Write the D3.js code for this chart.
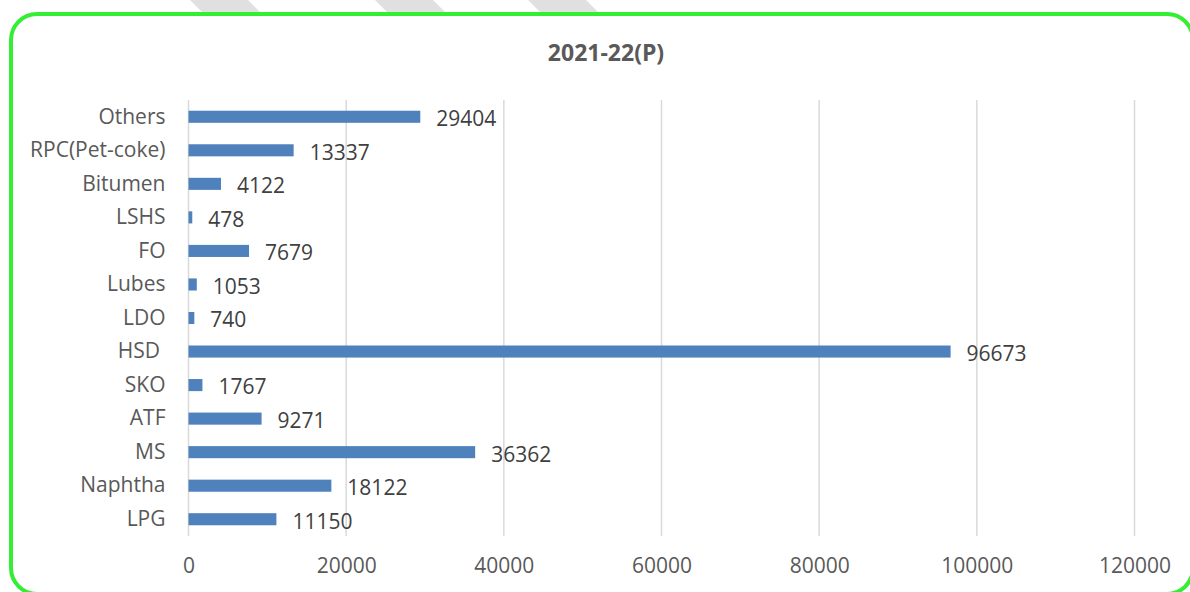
<!DOCTYPE html>
<html>
<head>
<meta charset="utf-8">
<script src="https://cdn.jsdelivr.net/npm/d3@7"></script>
<style>
  html, body { margin: 0; padding: 0; background: #fff; }
  svg { display: block; font-family: "Open Sans", sans-serif; }
</style>
</head>
<body>
<svg width="1190" height="592"></svg>
<script>
// chart data (top to bottom as shown)
const categories = ["Others", "RPC(Pet-coke)", "Bitumen", "LSHS", "FO", "Lubes", "LDO", "HSD ", "SKO", "ATF", "MS", "Naphtha", "LPG"];
const values = [29404, 13337, 4122, 478, 7679, 1053, 740, 96673, 1767, 9271, 36362, 18122, 11150];
const xTicks = [0, 20000, 40000, 60000, 80000, 100000, 120000];
const title = "2021-22(P)";

const svg = d3.select("svg");
const width = +svg.attr("width");
const height = +svg.attr("height");

// faint diagonal stripes peeking above the frame
const stripes = [190, 375, 528];
svg.selectAll(".stripe")
    .data(stripes)
    .join("polygon")
    .attr("class", "stripe")
    .attr("points", d => `${d},0 ${d + 58},0 ${d + 74},16 ${d + 16},16`)
    .attr("fill", "#e0e0e0");

// green rounded frame
svg.append("rect")
    .attr("x", 11)
    .attr("y", 14)
    .attr("width", 1182)
    .attr("height", 580)
    .attr("rx", 26)
    .attr("fill", "#fff")
    .attr("stroke", "#33ee33")
    .attr("stroke-width", 4);

const plot = { left: 188.5, right: 1134.5, top: 100, bottom: 536 };

const x = d3.scaleLinear()
    .domain([0, 120000])
    .range([plot.left, plot.right]);

const y = d3.scaleBand()
    .domain(categories)
    .range([plot.top, plot.bottom])
    .paddingInner(0.64)
    .paddingOuter(0.32);

// title
svg.append("text")
    .attr("x", 606)
    .attr("y", 61)
    .attr("text-anchor", "middle")
    .attr("font-weight", "bold")
    .attr("font-size", 23)
    .attr("fill", "#595959")
    .text(title);

// gridlines
svg.append("g")
    .selectAll("line")
    .data(xTicks)
    .join("line")
    .attr("x1", d => x(d))
    .attr("x2", d => x(d))
    .attr("y1", plot.top)
    .attr("y2", plot.bottom)
    .attr("stroke", "#d9d9d9")
    .attr("stroke-width", 1.5);

// x axis labels
const xAxis = svg.append("g")
    .attr("transform", `translate(0, ${plot.bottom})`)
    .call(d3.axisBottom(x).tickValues(xTicks).tickSize(0).tickPadding(22).tickFormat(d3.format("d")));
xAxis.select(".domain").remove();
xAxis.selectAll("text")
    .attr("font-family", "Open Sans, sans-serif")
    .attr("font-size", 21)
    .attr("fill", "#595959");

// category labels (keep trailing spaces as in the source)
const yAxis = svg.append("g")
    .attr("transform", `translate(${plot.left}, 0)`)
    .call(d3.axisLeft(y).tickSize(0).tickPadding(23));
yAxis.select(".domain").remove();
yAxis.selectAll("text")
    .attr("font-family", "Open Sans, sans-serif")
    .attr("font-size", 21)
    .attr("fill", "#595959")
    .style("white-space", "pre");

// bars
svg.append("g")
    .selectAll("rect")
    .data(categories)
    .join("rect")
    .attr("x", x(0))
    .attr("y", d => y(d))
    .attr("width", (d, i) => x(values[i]) - x(0))
    .attr("height", y.bandwidth())
    .attr("fill", "#4f81bd");

// value labels
svg.append("g")
    .selectAll("text")
    .data(categories)
    .join("text")
    .attr("x", (d, i) => x(values[i]) + 16)
    .attr("y", d => y(d) + y.bandwidth() / 2 + 2)
    .attr("dy", "0.35em")
    .attr("font-size", 21)
    .attr("fill", "#404040")
    .text((d, i) => values[i]);
</script>
</body>
</html>
